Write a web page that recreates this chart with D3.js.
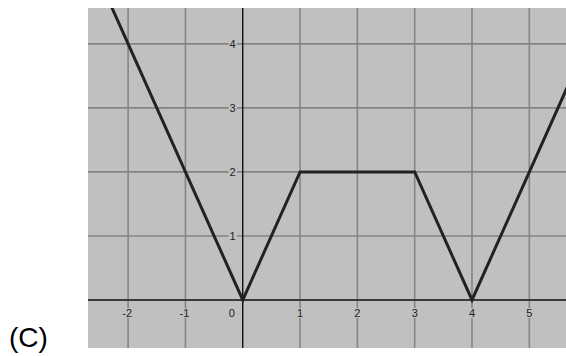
<!DOCTYPE html>
<html>
<head>
<meta charset="utf-8">
<script src="https://cdn.jsdelivr.net/npm/d3@7"></script>
<style>
	body { margin: 0; background: #fff; }
	svg { display: block; }
	.tick-text { font-family: "Liberation Sans", Arial, sans-serif; font-size: 11px; fill: #222; }
	.panel-label { font-family: "Liberation Sans", Arial, sans-serif; font-size: 28px; fill: #000; }
</style>
</head>
<body>
<svg id="chart" width="566" height="356"></svg>
<script>
// piecewise graph: corner points of the function
var xPoints = [-3, 0, 1, 3, 4, 6];
var yPoints = [6, 0, 2, 2, 0, 4];

// grid / tick values
var xTicks = [-2, -1, 0, 1, 2, 3, 4, 5];
var yTicks = [1, 2, 3, 4];
var xDomain = [-2.7, 5.64];
var yDomain = [-0.75, 4.56];

var W = 566, H = 356;
var plot = { left: 88, top: 8, right: 566, bottom: 348 };

var svg = d3.select('#chart');

var x = d3.scaleLinear().domain(xDomain).range([plot.left, plot.right]);
var y = d3.scaleLinear().domain(yDomain).range([plot.bottom, plot.top]);

svg.append('defs').append('clipPath').attr('id', 'plotClip')
	.append('rect')
	.attr('x', plot.left).attr('y', plot.top)
	.attr('width', plot.right - plot.left).attr('height', plot.bottom - plot.top);

var g = svg.append('g').attr('clip-path', 'url(#plotClip)');

// background
g.append('rect')
	.attr('x', plot.left).attr('y', plot.top)
	.attr('width', plot.right - plot.left).attr('height', plot.bottom - plot.top)
	.attr('fill', '#c0c0c0');

// grid
g.selectAll('.vgrid').data(xTicks.filter(function(d){ return d !== 0; }))
	.enter().append('line')
	.attr('x1', function(d){ return x(d); }).attr('x2', function(d){ return x(d); })
	.attr('y1', plot.top).attr('y2', plot.bottom)
	.attr('stroke', '#858585').attr('stroke-width', 1.6);

g.selectAll('.hgrid').data(yTicks)
	.enter().append('line')
	.attr('x1', plot.left).attr('x2', plot.right)
	.attr('y1', function(d){ return y(d); }).attr('y2', function(d){ return y(d); })
	.attr('stroke', '#858585').attr('stroke-width', 1.6);

// tick labels with background boxes (cover grid line)
var labelG = g.append('g');
xTicks.forEach(function(d){
	var tx = d === 0 ? x(0) - 11 : x(d) + (d < 0 ? -1 : 0);
	var t = labelG.append('text').attr('class', 'tick-text')
		.attr('x', tx).attr('y', y(0) + 17)
		.attr('text-anchor', 'middle').text(d);
	if(d !== 0){
		var bb = t.node().getBBox();
		labelG.insert('rect', 'text')
			.attr('x', bb.x + (d < 0 ? 5 : 0)).attr('y', bb.y + 1)
			.attr('width', d < 0 ? bb.width - 5 : bb.width).attr('height', bb.height - 2)
			.attr('fill', '#c0c0c0');
	}
});
yTicks.forEach(function(d){
	var t = labelG.append('text').attr('class', 'tick-text')
		.attr('x', x(0) - 7).attr('y', y(d) + 4)
		.attr('text-anchor', 'end').text(d);
	var bb = t.node().getBBox();
	labelG.insert('rect', 'text')
		.attr('x', bb.x - 1).attr('y', bb.y + 1)
		.attr('width', bb.width + 2).attr('height', bb.height - 2)
		.attr('fill', '#c0c0c0');
});

// axes
g.append('line')
	.attr('x1', plot.left).attr('x2', plot.right)
	.attr('y1', y(0)).attr('y2', y(0))
	.attr('stroke', '#3a3a3a').attr('stroke-width', 2);
g.append('line')
	.attr('x1', x(0)).attr('x2', x(0))
	.attr('y1', plot.top).attr('y2', plot.bottom)
	.attr('stroke', '#000').attr('stroke-width', 1.3);

// function graph
var pts = xPoints.map(function(v, i){ return [v, yPoints[i]]; });
var line = d3.line().x(function(d){ return x(d[0]); }).y(function(d){ return y(d[1]); });
g.append('path').datum(pts)
	.attr('d', line)
	.attr('fill', 'none')
	.attr('stroke', '#222')
	.attr('stroke-width', 3)
	.attr('stroke-linejoin', 'miter');

// panel label
svg.append('text').attr('class', 'panel-label')
	.attr('x', 9).attr('y', 347).text('(C)');
</script>
</body>
</html>
